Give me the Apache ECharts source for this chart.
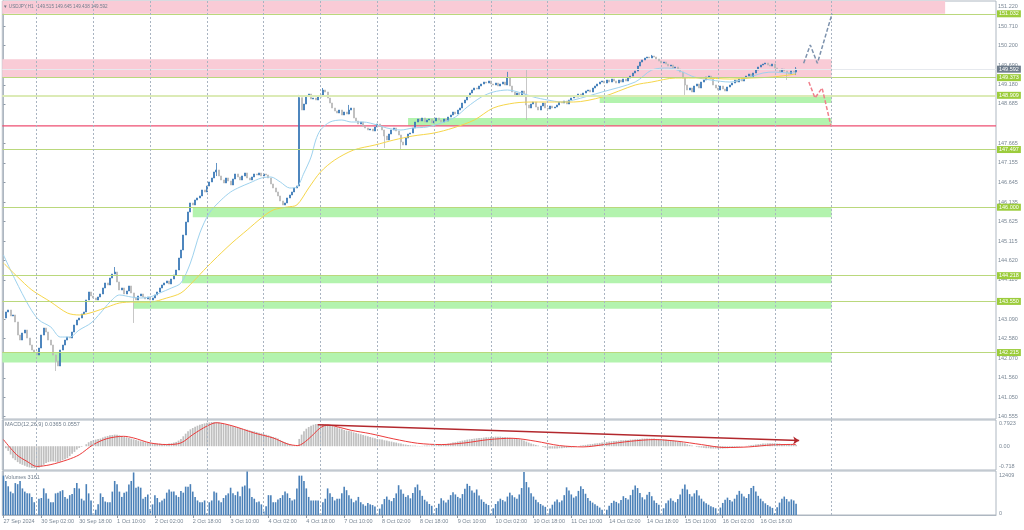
<!DOCTYPE html>
<html><head><meta charset="utf-8">
<script src="https://cdn.jsdelivr.net/npm/echarts@6/dist/echarts.min.js"></script>
<style>html,body{margin:0;padding:0;background:#fff}#c{width:1024px;height:530px}</style>
</head><body><div id="c"></div><script>
// ---------- DATA ----------
const tickLabels = ["27 Sep 2024","30 Sep 02:00","30 Sep 18:00","1 Oct 10:00","2 Oct 02:00","2 Oct 18:00","3 Oct 10:00","4 Oct 02:00","4 Oct 18:00","7 Oct 10:00","8 Oct 02:00","8 Oct 18:00","9 Oct 10:00","10 Oct 02:00","10 Oct 18:00","11 Oct 10:00","14 Oct 02:00","14 Oct 18:00","15 Oct 10:00","16 Oct 02:00","16 Oct 18:00"];
const slotCount = 420;
const firstOpen = 143.30;
const closes = [
143.118,143.275,143.327,143.171,143.197,143.015,142.676,142.546,142.728,142.806,142.598,142.416,142.286,142.234,142.156,
142.338,142.676,142.858,142.754,142.546,142.416,142.156,142.000,141.870,142.286,142.416,
142.546,142.624,142.598,142.754,142.936,143.067,143.118,143.223,143.275,143.587,143.795,
143.691,143.639,143.587,143.665,143.743,143.899,144.029,143.977,144.159,144.263,144.315,
144.055,143.847,143.899,143.743,143.821,143.951,143.769,143.639,
143.587,143.691,143.743,143.665,143.613,143.665,143.587,143.639,
143.717,143.795,143.899,143.977,144.029,144.081,144.003,144.133,144.237,144.367,
144.679,144.887,145.277,145.615,145.876,146.110,146.058,
146.188,146.240,146.292,146.448,146.396,146.552,146.656,146.760,146.916,146.968,
146.812,146.708,146.630,146.760,146.682,146.578,146.734,146.864,146.786,146.708,146.812,146.890,146.760,146.708,146.786,146.864,
146.838,146.890,146.812,146.864,146.838,146.760,146.604,146.500,146.396,146.292,146.162,146.058,
146.110,146.240,146.318,146.396,146.500,146.552,
148.850,
148.528,148.684,148.892,148.944,148.814,148.840,148.788,148.866,148.918,149.048,148.996,148.840,148.710,148.580,148.502,
148.450,148.528,148.398,148.476,148.424,148.528,148.580,148.320,148.242,148.164,148.216,148.112,148.060,148.008,148.034,147.982,148.086,148.164,148.112,
148.008,147.852,147.748,147.904,148.008,148.060,147.982,147.878,147.696,147.618,147.800,147.904,147.930,148.060,
148.216,148.294,148.242,148.320,148.216,148.268,148.294,148.190,148.242,148.320,148.268,148.216,148.294,148.242,148.346,
148.398,148.476,148.424,148.528,148.580,148.710,148.788,148.866,148.970,149.048,149.100,149.074,149.152,149.204,149.256,149.230,149.282,149.204,
149.178,149.230,149.152,149.204,149.256,149.178,149.360,149.152,148.996,148.918,148.970,148.892,149.022,148.944,148.658,
148.580,148.684,148.736,148.606,148.528,148.632,148.710,148.580,148.554,148.632,148.580,148.606,148.658,148.736,148.710,148.762,148.684,148.788,148.840,148.892,148.866,148.944,148.918,
148.970,149.022,149.048,148.996,149.100,149.152,149.204,149.256,149.282,149.230,149.308,149.256,149.334,149.282,149.230,149.308,149.256,149.334,149.282,149.360,149.412,149.490,149.542,149.672,
149.776,149.829,149.880,149.906,149.880,149.932,149.906,149.854,149.802,149.750,149.776,149.724,149.672,149.698,149.620,149.646,149.594,149.516,149.360,149.178,149.048,149.100,148.996,
149.152,149.204,149.100,149.256,149.308,149.386,149.412,149.334,149.178,149.100,149.048,149.152,149.074,149.022,149.126,149.178,149.230,149.308,149.256,149.334,149.282,149.360,
149.412,149.464,149.386,149.490,149.569,149.646,149.698,149.724,149.750,149.698,149.672,149.724,149.620,149.569,149.516,149.594,149.542,149.490,149.464,149.542,149.515,149.592
];
// notable wick extremes: bar index -> [low, high]
const wicks = {0:[142.81,143.34],22:[141.74,142.16],47:[144.26,144.445],55:[142.99,143.77],90:[146.81,147.15],
 125:[146.55,148.92],135:[148.92,149.10],146:[148.42,148.66],161:[147.54,148.01],168:[147.49,147.88],
 213:[149.18,149.52],221:[148.27,149.57],274:[149.88,149.96],288:[148.92,149.36],331:[149.31,149.54],335:[149.438,149.645]};
const maFast = [[0,144.757],[5,144.107],[11,143.405],[15,143.067],[20,142.884],[24,142.624],[28,142.624],[32,142.806],[37,142.988],[41,143.249],[45,143.535],[49,143.717],[54,143.665],[58,143.639],[62,143.665],[66,143.769],[71,143.899],[75,144.029],[79,144.549],[83,145.329],[87,145.850],[92,146.188],[96,146.396],[100,146.526],[104,146.630],[109,146.760],[113,146.786],[117,146.656],[121,146.500],[124,146.526],[127,146.890],[130,147.306],[132,147.748],[134,148.008],[138,148.216],[143,148.268],[147,148.216],[152,148.216],[158,148.138],[162,148.060],[168,148.008],[173,148.060],[179,148.086],[185,148.190],[191,148.346],[196,148.606],[202,148.866],[207,148.996],[213,149.048],[219,148.970],[224,148.866],[230,148.788],[236,148.736],[241,148.788],[253,148.996],[267,149.256],[274,149.569],[281,149.620],[287,149.516],[292,149.386],[299,149.308],[307,149.256],[313,149.334],[321,149.490],[326,149.516],[332,149.490],[335,149.490]];
const maSlow = [[0,144.549],[6,144.185],[12,143.847],[20,143.535],[27,143.249],[32,143.197],[38,143.275],[44,143.405],[49,143.509],[55,143.535],[62,143.535],[69,143.639],[75,143.769],[80,144.055],[86,144.445],[92,144.809],[97,145.095],[103,145.407],[109,145.720],[114,145.928],[120,146.006],[124,146.058],[129,146.500],[134,146.916],[140,147.228],[148,147.488],[157,147.618],[165,147.748],[173,147.852],[182,147.930],[190,148.060],[199,148.268],[207,148.580],[216,148.710],[224,148.736],[233,148.736],[241,148.736],[253,148.866],[267,149.178],[274,149.256],[284,149.360],[295,149.360],[307,149.334],[316,149.360],[325,149.386],[335,149.464]];
const projUp = [[338.2,149.743],[341,150.219],[344,149.743],[350.2,151.03]];
const projDown = [[340.4,149.256],[343,148.840],[346,149.100],[349.8,148.10]];
const resistanceLevels = [151.032,149.373,148.909,147.497,146.000,144.218,143.550,142.215];
const redLevel = 148.116;
const lastPrice = 149.592;
const pinkZones = [[-0.5,398,151.032,151.36],[-0.5,350,149.373,149.847]];
const greenZones = [[252,350,148.71,148.909],[171,350,148.116,148.32],[80,350,145.74,146.0],[75.5,350,144.02,144.218],[55,350,143.36,143.55],[-0.5,350,141.96,142.215]];
const dayLines = [14,38,62,86,110,134,158,182,206,230,254,278,302,326,350];
const priceTicks = [140.555,141.050,141.560,142.070,142.580,143.090,144.110,144.620,145.115,145.625,146.135,146.645,147.155,147.665,148.685,149.180,149.690,150.200,150.710,151.220];
const macdHist = [
0.00,-0.06,-0.14,-0.25,-0.36,-0.42,-0.48,-0.53,-0.56,-0.59,-0.62,-0.64,-0.66,-0.66,-0.66,-0.65,-0.61,-0.56,-0.51,-0.48,
-0.46,-0.46,-0.47,-0.48,-0.46,-0.42,-0.39,-0.36,-0.30,-0.23,-0.17,-0.10,-0.05,-0.02,0.00,0.06,0.12,0.16,0.18,0.20,
0.22,0.23,0.26,0.29,0.31,0.33,0.34,0.35,0.35,0.33,0.31,0.29,0.27,0.25,0.23,0.21,0.19,0.17,0.15,0.14,
0.12,0.11,0.10,0.09,0.09,0.08,0.08,0.07,0.07,0.07,0.08,0.09,0.11,0.13,0.17,0.22,0.30,0.38,0.45,0.51,
0.55,0.59,0.62,0.65,0.67,0.69,0.71,0.72,0.73,0.73,0.73,0.72,0.70,0.68,0.66,0.64,0.62,0.60,0.58,0.56,
0.55,0.53,0.51,0.50,0.48,0.46,0.45,0.43,0.41,0.39,0.37,0.35,0.33,0.30,0.28,0.26,0.23,0.19,0.15,0.12,
0.10,0.06,0.03,0.02,0.02,0.22,0.35,0.45,0.53,0.58,0.62,0.65,0.67,0.67,0.67,0.67,0.66,0.65,0.63,0.61,
0.59,0.57,0.54,0.52,0.49,0.47,0.46,0.45,0.42,0.40,0.38,0.36,0.34,0.32,0.30,0.28,0.26,0.24,0.22,0.21,
0.20,0.18,0.17,0.15,0.14,0.12,0.11,0.09,0.08,0.06,0.05,0.04,0.03,0.02,0.02,0.01,0.01,0.01,0.02,0.02,
0.02,0.03,0.03,0.03,0.04,0.04,0.05,0.06,0.08,0.09,0.11,0.12,0.14,0.15,0.17,0.18,0.20,0.21,0.22,0.23,
0.24,0.25,0.25,0.26,0.27,0.27,0.28,0.28,0.29,0.29,0.29,0.28,0.28,0.27,0.26,0.25,0.24,0.23,0.21,0.20,
0.17,0.14,0.11,0.08,0.06,0.04,0.02,0.00,-0.02,-0.04,-0.06,-0.07,-0.07,-0.07,-0.07,-0.06,-0.06,-0.05,-0.05,-0.04,
-0.04,-0.03,-0.01,0.00,0.02,0.03,0.04,0.05,0.06,0.07,0.08,0.09,0.10,0.11,0.12,0.13,0.14,0.15,0.16,0.16,
0.17,0.18,0.18,0.19,0.19,0.20,0.20,0.21,0.22,0.22,0.23,0.23,0.23,0.23,0.23,0.23,0.22,0.22,0.22,0.21,
0.20,0.19,0.18,0.17,0.16,0.15,0.13,0.12,0.09,0.06,0.04,0.02,0.00,-0.02,-0.03,-0.04,-0.05,-0.06,-0.06,-0.07,
-0.07,-0.07,-0.07,-0.07,-0.07,-0.06,-0.06,-0.05,-0.05,-0.04,-0.03,-0.02,-0.01,0.00,0.01,0.02,0.03,0.04,0.05,0.06,
0.07,0.08,0.08,0.09,0.09,0.09,0.09,0.08,0.08,0.07,0.06,0.06,0.05,0.05,0.04,0.04
];
const macdSignal = [[0,0.2],[5.6,-0.26],[10,-0.46],[14,-0.61],[19.7,-0.56],[27,-0.41],[32,-0.26],[38,0.05],[43.8,0.23],[50.7,0.30],[55,0.25],[62,0.10],[69,0.05],[75,0.10],[80,0.35],[86,0.61],[90,0.71],[97,0.61],[106,0.40],[114,0.25],[120,0.07],[124.4,0.02],[128.6,0.2],[134,0.56],[137,0.64],[142.6,0.56],[147,0.48],[155,0.38],[165,0.22],[175,0.09],[185,0.05],[195,0.1],[205,0.2],[215,0.24],[225,0.15],[235,0.02],[245,-0.02],[255,0.06],[265,0.15],[275,0.2],[285,0.15],[295,0.05],[305,-0.04],[315,-0.02],[325,0.04],[335,0.056]];
const macdTrend = [[132.8,0.65],[336.3,0.17]];
const volumes = [
11100,9600,8100,6600,6100,9000,8700,9600,7500,6600,6100,6100,5100,3600,
200,
4600,4800,7500,6100,4600,3600,3600,6100,6300,6700,7000,5100,4600,5600,5900,7600,9000,7500,4600,4100,8700,6100,4100,
500,
1500,3000,6100,5100,3800,3600,3600,6600,9600,8700,6600,5100,6300,6600,8600,9600,12000,7700,8000,7700,4600,5100,5800,
1700,
3000,5600,4800,3600,4100,4600,6300,7200,6600,6600,5600,5100,6800,6300,8000,8000,8700,6600,5100,4100,3600,3600,4100,
500,
3600,4100,6600,6300,4100,3600,4800,5600,6100,7700,6100,5600,6600,5300,8000,8300,12300,7500,5100,4600,3600,3800,3000,
1000,
2500,5600,5600,3600,3600,4400,4800,5600,6600,6100,4800,4100,4400,7500,11100,11100,9600,7500,5100,4100,4100,4100,4100,
500,
3600,4600,7500,6100,5100,4100,4600,4600,6100,8000,7000,5600,
4600,3600,4100,5100,3600,3000,2600,3400,3000,2800,2400,
400,
1800,3000,4500,5200,4300,3900,4800,6100,8400,7200,6000,5100,5600,4700,6200,7800,8600,7000,5400,4300,3800,3100,2600,
500,
2000,3200,4700,4100,3500,4300,5600,6400,5800,5100,4700,5900,7400,8800,8200,6900,6300,7200,5500,4400,3700,3200,2800,
400,
1900,3100,3900,4600,4200,3800,5200,6300,5600,5000,4600,5800,7600,12100,9300,7800,6100,5200,4300,3600,3100,2700,2300,
500,
1800,2900,3800,4400,3600,4100,5600,7800,6900,5800,4900,5300,6800,8100,7300,6000,4800,4000,3500,3000,2600,2100,1500,
300,
1500,2600,3400,4000,3700,3300,4200,5300,4800,4400,5600,7100,8300,7600,6200,5000,4400,5700,6500,5300,4100,3400,2900,
400,
1900,3300,4100,4700,4000,3600,4500,5800,7400,8600,7200,5900,5200,6100,7000,5500,4600,3800,3300,2900,2500,2200,1900,
400,
2100,3400,4300,4900,4200,3800,4600,5700,6800,6000,5200,4800,5900,7600,8200,6600,5400,4600,3900,3300,2800,2400,2000,
500,
2200,3500,4600,5200,4500,3800,4400,4100,3161
];

// ---------- BUILD ----------
const FONT = 'Liberation Sans';
const TXT = '#7a8795';
const ohlc = closes.map((c, i) => {
  const o = i === 0 ? firstOpen : closes[i - 1];
  let lo = Math.min(o, c), hi = Math.max(o, c);
  if (wicks[i]) { lo = Math.min(lo, wicks[i][0]); hi = Math.max(hi, wicks[i][1]); }
  return [o, c, lo, hi];
});
const cats = Array.from({length: slotCount}, (_, i) => (i % 16 === 0 && tickLabels[i / 16]) ? tickLabels[i / 16] : '');
const tickShown = (i) => i % 16 === 0 && i / 16 < tickLabels.length;

const vLines = dayLines.map(x => ({xAxis: x, lineStyle: {color: '#a9b4c1', width: 1, type: [2, 2]}, label: {show: false}}));
function levelLabel(v, bg) {
  return {show: true, position: 'end', distance: 1, formatter: v.toFixed(3), color: '#fff', backgroundColor: bg,
      fontSize: 5.5, fontFamily: FONT, padding: [1, 2, 0, 2]};
}
const levelData = [];
resistanceLevels.forEach(v => levelData.push({yAxis: v,
  lineStyle: {color: v === 148.909 ? '#dcebb6' : '#bad87c', width: v === 148.909 ? 2 : 1, type: 'solid'},
  label: levelLabel(v, '#9ccc3c')}));
levelData.push({yAxis: lastPrice, lineStyle: {color: '#e6e9ee', width: 1, type: 'solid'}, label: levelLabel(lastPrice, '#6f7d8c')});

const zoneData = [];
pinkZones.forEach(z => zoneData.push([{xAxis: z[0], yAxis: z[3], itemStyle: {color: '#f9cbd6'}}, {xAxis: z[1], yAxis: z[2]}]));
greenZones.forEach(z => zoneData.push([{xAxis: z[0], yAxis: z[3], itemStyle: {color: '#b3f3ae'}}, {xAxis: z[1], yAxis: z[2]}]));

const grids = [
  {left: 2.3, right: 28, top: 1, height: 418},
  {left: 2.3, right: 28, top: 420, height: 50},
  {left: 2.3, right: 28, top: 471, height: 44}
].map(g => Object.assign(g, {show: true, borderColor: '#aeb7c1', borderWidth: 1, backgroundColor: 'transparent'}));

const catAxis = (gi, show) => ({type: 'category', gridIndex: gi, data: cats, boundaryGap: true,
  axisLine: {show: show, lineStyle: {color: '#aeb7c1'}},
  axisTick: {show: show, alignWithLabel: true, interval: tickShown, length: 3, lineStyle: {color: '#8d99a6'}},
  axisLabel: {show: show, interval: tickShown, align: 'left', fontSize: 5.5, fontFamily: FONT, color: TXT, margin: 3},
  splitLine: {show: false}});
const valX = (gi) => ({type: 'value', gridIndex: gi, min: -0.5, max: slotCount - 0.5, show: false});

const macdTicks = [-0.718, 0, 0.7923];
const volTicks = [0, 12409];

const option = {
  animation: false,
  backgroundColor: '#fff',
  textStyle: {fontFamily: FONT},
  title: [
    {text: '▼ USDJPY,H1   149.515 149.645 149.438 149.592', left: 3, top: 4, padding: 0,
      textStyle: {fontSize: 4.6, color: '#6f7d8c', fontWeight: 'normal', fontFamily: FONT}},
    {text: 'MACD(12,26,9) 0.0365 0.0557', left: 5, top: 421, padding: 0,
      textStyle: {fontSize: 5.5, color: '#6f7d8c', fontWeight: 'normal', fontFamily: FONT}},
    {text: 'Volumes 3161', left: 5, top: 474, padding: 0,
      textStyle: {fontSize: 5.5, color: '#6f7d8c', fontWeight: 'normal', fontFamily: FONT}}
  ],
  grid: grids,
  xAxis: [catAxis(0, false), catAxis(1, false), catAxis(2, true), valX(0), valX(1), valX(2)],
  yAxis: [
    {type: 'value', gridIndex: 0, position: 'right', min: 140.492, max: 151.363, splitLine: {show: false},
      axisLine: {show: true, lineStyle: {color: '#aeb7c1'}},
      axisTick: {show: true, customValues: priceTicks, length: 2, lineStyle: {color: '#8d99a6'}},
      axisLabel: {customValues: priceTicks, formatter: v => v.toFixed(3), fontSize: 5.5, fontFamily: FONT, color: TXT, margin: 2}},
    {type: 'value', gridIndex: 1, position: 'right', min: -0.718, max: 0.7923, splitLine: {show: false},
      axisLine: {show: true, lineStyle: {color: '#aeb7c1'}},
      axisTick: {show: false, customValues: macdTicks},
      axisLabel: {customValues: macdTicks, margin: 3,
        formatter: v => v > 0 ? '{t|' + v.toFixed(4) + '}' : (v < 0 ? '{b|' + v.toFixed(3) + '}' : '{m|0.00}'),
        rich: {t: {fontSize: 5.5, color: TXT, fontFamily: FONT, padding: [7, 0, 0, 0]},
               b: {fontSize: 5.5, color: TXT, fontFamily: FONT, padding: [0, 0, 7, 0]},
               m: {fontSize: 5.5, color: TXT, fontFamily: FONT}}}},
    {type: 'value', gridIndex: 2, position: 'right', min: 0, max: 12409, splitLine: {show: false},
      axisLine: {show: true, lineStyle: {color: '#aeb7c1'}},
      axisTick: {show: false, customValues: volTicks},
      axisLabel: {customValues: volTicks, margin: 3,
        formatter: v => v > 0 ? '{t|' + v + '}' : '{b|' + v + '}',
        rich: {t: {fontSize: 5.5, color: TXT, fontFamily: FONT, padding: [8, 0, 0, 0]},
               b: {fontSize: 5.5, color: TXT, fontFamily: FONT, padding: [0, 0, 4, 0]}}}}
  ],
  series: [
    {type: 'line', name: 'zones', xAxisIndex: 3, yAxisIndex: 0, data: [], z: 1, silent: true,
      markArea: {silent: true, data: zoneData},
      markLine: {silent: true, symbol: ['none', 'none'], data: levelData.concat(vLines)}},
    // support level drawn as a real two-point line through the axis scale
    {type: 'line', name: 'support', xAxisIndex: 3, yAxisIndex: 0,
      data: [[-0.5, redLevel], [slotCount - 0.5, redLevel]], showSymbol: false, z: 2, silent: true,
      lineStyle: {color: '#ee4f72', width: 1.3, type: 'solid'},
      markLine: {silent: true, symbol: ['none', 'none'], lineStyle: {opacity: 0},
        data: [{yAxis: redLevel, label: levelLabel(redLevel, '#dc1f47')}]}},
    {type: 'candlestick', xAxisIndex: 0, yAxisIndex: 0, data: ohlc, barWidth: 1.5, z: 3,
      itemStyle: {color: '#3a78b6', color0: '#b9b9b9', borderColor: '#3a78b6', borderColor0: '#b9b9b9', borderWidth: 0.8}},
    {type: 'line', xAxisIndex: 3, yAxisIndex: 0, data: maFast, smooth: 0.3, showSymbol: false, z: 4,
      lineStyle: {color: '#9ed2ee', width: 1}},
    {type: 'line', xAxisIndex: 3, yAxisIndex: 0, data: maSlow, smooth: 0.3, showSymbol: false, z: 4,
      lineStyle: {color: '#f6d64a', width: 1}},
    {type: 'line', xAxisIndex: 3, yAxisIndex: 0, data: projUp, showSymbol: false, z: 5,
      lineStyle: {color: '#7d92ad', width: 1.5, type: [4, 2]}},
    {type: 'line', xAxisIndex: 3, yAxisIndex: 0, data: projDown, showSymbol: false, z: 5,
      lineStyle: {color: '#f07f8c', width: 1.5, type: [4, 2]}},
    // MACD
    {type: 'line', xAxisIndex: 4, yAxisIndex: 1, data: [], z: 1, silent: true,
      markLine: {silent: true, symbol: ['none', 'none'], data: vLines.concat([
        [{coord: macdTrend[0], symbol: 'none'}, {coord: macdTrend[1], symbol: 'arrow', symbolSize: 6,
          lineStyle: {color: '#b3282d', width: 1.5, type: 'solid'}}]
      ])}},
    {type: 'bar', xAxisIndex: 1, yAxisIndex: 1, data: macdHist, barWidth: 1.7, z: 2,
      itemStyle: {color: '#bfbfbf'}},
    {type: 'line', xAxisIndex: 4, yAxisIndex: 1, data: macdSignal, smooth: 0.3, showSymbol: false, z: 3,
      lineStyle: {color: '#ec3b3b', width: 1}},
    // Volume
    {type: 'line', xAxisIndex: 5, yAxisIndex: 2, data: [], z: 1, silent: true,
      markLine: {silent: true, symbol: ['none', 'none'], data: vLines}},
    {type: 'bar', xAxisIndex: 2, yAxisIndex: 2, data: volumes, barWidth: 1.6, z: 2,
      itemStyle: {color: '#4a80b8'}}
  ]
};
const chart = echarts.init(document.getElementById('c'), null, {renderer: 'canvas'});
chart.setOption(option);
</script></body></html>
